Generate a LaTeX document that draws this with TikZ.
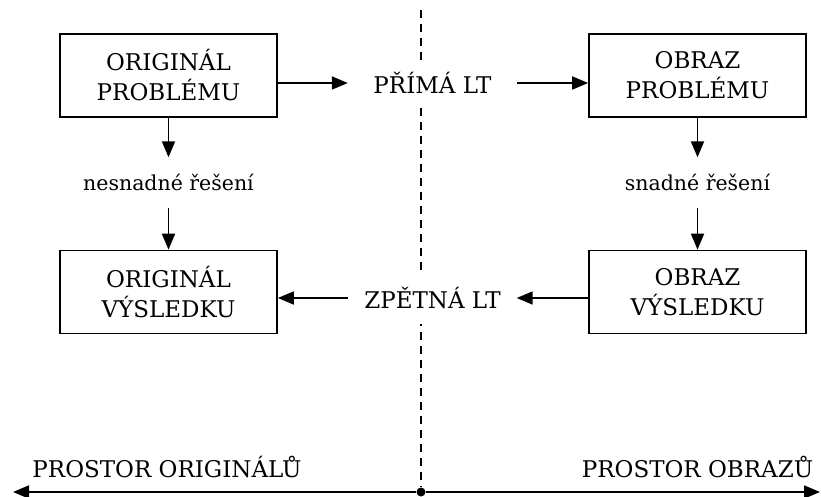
\documentclass[tikz,border=0pt]{standalone}
\usepackage{fontspec}
\setmainfont{DejaVu Serif}
\usetikzlibrary{arrows.meta}
\begin{document}
\begin{tikzpicture}[x=1pt,y=-1pt,
  box/.style={draw,line width=1.7pt,minimum width=217pt,minimum height=83pt,inner sep=0pt,align=center,font=\fontsize{23}{30}\selectfont},
  big/.style={font=\fontsize{23}{28}\selectfont},
  small/.style={font=\fontsize{20.5}{24}\selectfont},
  arr/.style={line width=1.8pt,-{Triangle[length=16pt,width=13pt]}},
  gapnode/.style={fill=white,inner sep=0pt}]
\useasboundingbox (0,0) rectangle (821,497);
% dashed divider and axis
\coordinate (top) at (421,10);
\node[circle,fill,inner sep=0pt,minimum size=9pt] (dot) at (421,492) {};
\coordinate (L) at (13,492);
\coordinate (R) at (820,492);
\draw[line width=1.3pt,dash pattern=on 8pt off 6pt] (top) -- (dot);
\draw[arr] (dot) -- (L);
\draw[arr] (dot) -- (R);
% boxes
\node[box] (b1) at (168.5,75.5) {ORIGINÁL\\PROBLÉMU};
\node[box] (b2) at (697.5,75.5) {OBRAZ\\PROBLÉMU};
\node[box] (b3) at (697.5,292) {OBRAZ\\VÝSLEDKU};
\node[box] (b4) at (168.5,292) {ORIGINÁL\\VÝSLEDKU};
% horizontal labels
\node[gapnode,big,minimum width=169pt,minimum height=40pt] (lt1) at (432.5,83) {PŘÍMÁ LT};
\node[gapnode,big,minimum width=168pt,minimum height=52pt] (lt2) at (432.5,298) {ZPĚTNÁ LT};
\draw[arr] (b1.east |- lt1) -- (lt1.west);
\draw[arr] (lt1.east) -- (b2.west |- lt1);
\draw[arr] (b3.west |- lt2) -- (lt2.east);
\draw[arr] (lt2.west) -- (b4.east |- lt2);
% vertical labels
\node[small,inner sep=0pt,minimum height=50pt] (s1) at (168.5,182.5) {nesnadné řešení};
\node[small,inner sep=0pt,minimum height=50pt] (s2) at (697.5,182.5) {snadné řešení};
\draw[arr] (b1.south) -- (s1.north);
\draw[arr] (s1.south) -- (b4.north);
\draw[arr] (b2.south) -- (s2.north);
\draw[arr] (s2.south) -- (b3.north);
% space labels
\node[big,anchor=base,inner sep=0pt] (p1) at (167,477) {PROSTOR ORIGINÁLŮ};
\node[big,anchor=base,inner sep=0pt] (p2) at (697.5,477) {PROSTOR OBRAZŮ};
\end{tikzpicture}
\end{document}
